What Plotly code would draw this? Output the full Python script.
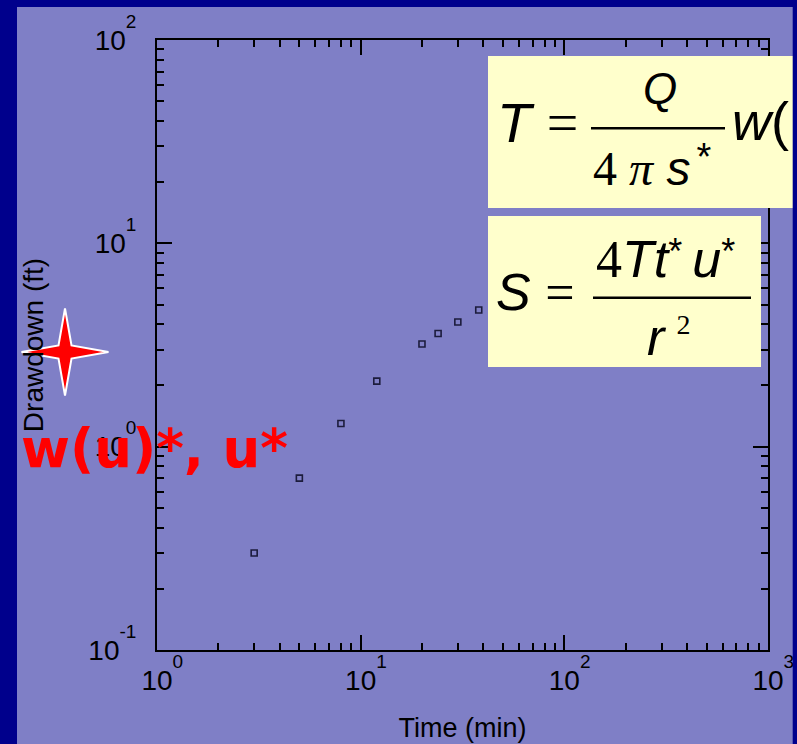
import plotly.graph_objects as go

# Pumping-test observations
time_min = [3, 5, 8, 12, 20, 24, 30, 38]
drawdown_ft = [0.3, 0.7, 1.3, 2.1, 3.2, 3.6, 4.1, 4.7]

x_major = [1, 10, 100, 1000]
x_exps = ["0", "1", "2", "3"]
y_major = [0.1, 1, 10, 100]
y_exps = ["-1", "0", "1", "2"]
x_minor = [m * 10 ** e for e in range(0, 3) for m in range(2, 10)]
y_minor = [m * 10.0 ** e for e in range(-1, 2) for m in range(2, 10)]

W, H = 797, 744
L, R, T, B = 157, 768, 40, 650
BG = "#7f7fc6"
NAVY = "#00008c"
PAD = "#ffffcc"

EXP_STYLE = "font-size:19px;baseline-shift:22px"


def power_label(exp, centred):
    """'10' with a raised exponent; a hidden copy in front keeps '10' centred."""
    lab = f'10<span style="{EXP_STYLE}">{exp}</span>'
    if centred:
        lab = f'<span style="{EXP_STYLE};fill-opacity:0">{exp}</span>' + lab
    return lab


x_major_text = [power_label(e, True) for e in x_exps]
y_major_text = [power_label(e, False) for e in y_exps]


def px(xp):
    return (xp - L) / (R - L)


def py(yp):
    return (B - yp) / (B - T)


fig = go.Figure()
fig.add_trace(go.Scatter(
    x=time_min, y=drawdown_ft, mode="markers",
    marker=dict(symbol="square-open", size=6, color="#1c1c3c",
                line=dict(width=1.6, color="#1c1c3c")),
    showlegend=False, hoverinfo="skip",
))

axis_common = dict(
    type="log", showgrid=False, zeroline=False, automargin=False,
    showline=True, linewidth=2, linecolor="black", mirror="allticks",
    ticks="inside", ticklen=15, tickwidth=1.5, tickcolor="black",
    tickfont=dict(family="Liberation Sans, Arial", size=28, color="black"),
)

fig.update_xaxes(
    **axis_common, range=[0, 3], tickmode="array",
    tickvals=x_major, ticktext=x_major_text,
    minor=dict(tickvals=x_minor, ticks="inside", ticklen=7, tickwidth=1.5,
               tickcolor="black", showgrid=False),
    ticklabelstandoff=4,
    title=dict(text="Time (min)", standoff=24,
               font=dict(family="Liberation Sans, Arial", size=27, color="black")),
)
fig.update_yaxes(
    **axis_common, range=[-1, 2], tickmode="array",
    tickvals=y_major, ticktext=y_major_text,
    minor=dict(tickvals=y_minor, ticks="inside", ticklen=7, tickwidth=1.5,
               tickcolor="black", showgrid=False),
    ticklabelstandoff=13,
    title=dict(text="Drawdown (ft)", standoff=37,
               font=dict(family="Liberation Sans, Arial", size=28, color="black")),
)

shapes = []
# formula panels
shapes.append(dict(type="rect", xref="paper", yref="paper", layer="above",
                   x0=px(488), x1=px(W), y0=py(208), y1=py(56),
                   fillcolor=PAD, line=dict(width=0)))
shapes.append(dict(type="rect", xref="paper", yref="paper", layer="above",
                   x0=px(488), x1=px(761), y0=py(367), y1=py(216),
                   fillcolor=PAD, line=dict(width=0)))
# fraction bars
shapes.append(dict(type="line", xref="paper", yref="paper", layer="above",
                   x0=px(591), x1=px(725), y0=py(128.3), y1=py(128.3),
                   line=dict(color="black", width=2.5)))
shapes.append(dict(type="line", xref="paper", yref="paper", layer="above",
                   x0=px(593), x1=px(751), y0=py(297.7), y1=py(297.7),
                   line=dict(color="black", width=2.5)))

# four-pointed star marker
cx, cy, ra, ri = 65, 352, 43.5, 6.5
pts = [(cx, cy - ra), (cx + ri, cy - ri), (cx + ra, cy), (cx + ri, cy + ri),
       (cx, cy + ra), (cx - ri, cy + ri), (cx - ra, cy), (cx - ri, cy - ri)]
path = "M " + " L ".join(f"{px(a):.5f},{py(b):.5f}" for a, b in pts) + " Z"
shapes.append(dict(type="path", xref="paper", yref="paper", layer="above",
                   path=path, fillcolor="#ff0000", line=dict(color="white", width=2)))

# dark frame (kept inside the page)
shapes.append(dict(type="rect", xref="paper", yref="paper", layer="above",
                   x0=px(0), x1=px(17), y0=py(H), y1=py(0),
                   fillcolor=NAVY, line=dict(width=0)))
shapes.append(dict(type="rect", xref="paper", yref="paper", layer="above",
                   x0=px(0), x1=px(W), y0=py(7), y1=py(0),
                   fillcolor=NAVY, line=dict(width=0)))
shapes.append(dict(type="rect", xref="paper", yref="paper", layer="above",
                   x0=px(792.7), x1=px(W), y0=py(H), y1=py(0),
                   fillcolor=NAVY, line=dict(width=0)))

SANS = "Liberation Sans, Arial"
SERIF = "Liberation Serif, Times New Roman"


def txt(text, x, ybot, size, family=SANS, color="black", xanchor="left", weight="normal"):
    return dict(text=text, xref="paper", yref="paper", x=px(x), y=py(ybot),
                xanchor=xanchor, yanchor="bottom", showarrow=False,
                borderpad=0, borderwidth=0,
                font=dict(family=family, size=size, color=color, weight=weight))


def serif(s):
    return f'<span style="font-family:{SERIF}">{s}</span>'


def raised(s, size, shift, family=SANS):
    return (f'<span style="font-family:{family};font-size:{size}px;'
            f'baseline-shift:{shift}px">{s}</span>')


annotations = [
    # T = Q / (4 pi s*) w(
    txt("<i>T</i> " + serif("="), 497, 141.7 + 0.212 * 56, 56),
    txt("<i>Q</i>", 660, 104 + 0.212 * 44, 44, xanchor="center"),
    txt(serif("4 <i>π</i>") + " <i>s</i>" + raised(" ", 22, 0) + raised("*", 38, 15),
        593, 185 + 0.212 * 48, 48),
    txt("<i>w</i>(", 732, 140 + 0.212 * 54, 54),
    # S = 4 T t* u* / r^2
    txt("<i>S</i> " + serif("="), 496, 310 + 0.212 * 52, 52),
    txt(serif("4") + "<i>Tt</i>" + raised("* ", 36, 13) + "<i>u</i>" + raised("*", 36, 13),
        596, 277 + 0.212 * 52, 52),
    txt("<i>r</i>" + raised(" ", 44, 0) + raised("2", 28, 21, SERIF), 647, 355 + 0.212 * 52, 52),
    # match-point label
    txt("w(u)*, u*", 21, 466 + 0.236 * 53, 53,
        family="DejaVu Sans, Verdana", color="#ff0000", weight="bold"),
]

fig.update_layout(
    width=W, height=H, autosize=False,
    margin=dict(l=L, r=W - R, t=T, b=H - B, pad=0, autoexpand=False),
    paper_bgcolor=BG, plot_bgcolor=BG,
    shapes=shapes, annotations=annotations, showlegend=False,
)

fig.write_html("out.html")
